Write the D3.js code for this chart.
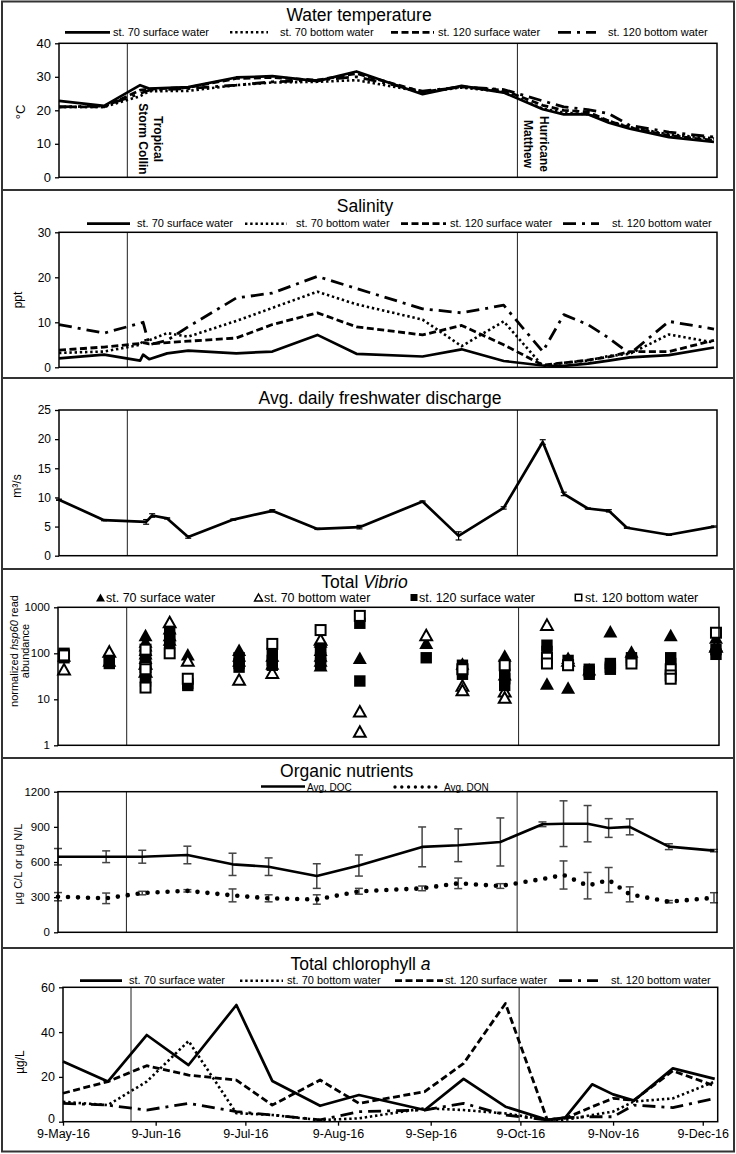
<!DOCTYPE html>
<html><head><meta charset="utf-8">
<script src="https://cdn.jsdelivr.net/npm/d3@7"></script>
<style>
body{margin:0;background:#fff;}
svg{display:block;font-family:"Liberation Sans",Arial,Helvetica,sans-serif;}
</style></head><body>
<svg id="chart" width="736" height="1154"></svg>
<script>
// ---------------- DATA ----------------
const seriesNames = ["st. 70 surface water","st. 70 bottom water","st. 120 surface water","st. 120 bottom water"];
const eventDates = ["2016-05-31 18","2016-10-08 14"];
const eventLabels = [["Tropical","Storm Collin"],["Hurricane","Matthew"]];
const xTickDates = ["2016-05-09","2016-06-09","2016-07-09","2016-08-09","2016-09-09","2016-10-09","2016-11-09","2016-12-09"];

// Water temperature (°C)
const tempDates = ["2016-05-09","2016-05-24","2016-06-05","2016-06-08","2016-06-21","2016-07-07","2016-07-19","2016-08-03","2016-08-16","2016-09-07","2016-09-20","2016-10-04","2016-10-17","2016-10-24","2016-11-01","2016-11-08","2016-11-15","2016-11-28","2016-12-13"];
const temp70Surface  = [22.8,21.3,27.5,26.5,26.9,29.8,30.2,28.7,31.6,24.8,27.3,25.3,20.3,18.8,18.8,16.3,14.5,12.0,10.6];
const temp70Bottom   = [21.0,21.0,24.2,25.7,25.8,27.5,28.3,28.5,29.0,25.5,26.8,25.5,20.5,19.3,18.8,16.8,15.0,12.8,11.6];
const temp120Surface = [21.0,21.0,26.0,26.3,26.8,29.5,29.8,29.0,31.0,25.5,27.0,26.0,21.5,20.0,19.5,16.8,14.8,12.5,11.0];
const temp120Bottom  = [21.0,21.3,25.0,26.0,26.5,27.5,28.5,29.0,30.0,25.7,27.0,26.2,22.8,21.0,20.2,19.0,15.5,13.5,12.0];
const tempTicks = [0,10,20,30,40];

// Salinity (ppt)
const salDates = ["2016-05-09","2016-05-24","2016-06-05","2016-06-06","2016-06-08","2016-06-14","2016-06-21","2016-07-07","2016-07-19","2016-08-03","2016-08-16","2016-09-07","2016-09-20","2016-10-04","2016-10-17","2016-10-24","2016-11-01","2016-11-08","2016-11-15","2016-11-28","2016-12-13"];
const sal70Surface  = [2.0,2.8,1.5,2.8,1.8,3.1,3.7,3.1,3.5,7.2,3.0,2.4,4.0,1.4,0.4,0.3,0.8,1.5,2.2,2.7,4.4];
const sal70Bottom   = [3.2,3.5,5.0,6.0,6.0,7.6,6.8,10.3,13.2,16.8,14.0,10.6,4.7,10.2,0.3,1.0,1.5,2.5,3.0,7.3,5.5];
const sal120Surface = [3.8,4.5,5.3,5.5,5.2,5.5,5.8,6.5,9.5,12.1,9.0,7.2,9.3,5.0,0.5,1.0,1.6,2.3,3.5,3.5,6.0];
const sal120Bottom  = [9.5,7.6,9.8,10.0,5.0,6.0,9.0,15.4,16.5,20.2,17.5,13.0,12.1,13.8,3.5,11.7,9.5,6.5,3.0,10.2,8.5];
const salTicks = [0,10,20,30];

// Avg. daily freshwater discharge (m3/s)
const disDates = ["2016-05-09","2016-05-24","2016-06-07","2016-06-09","2016-06-14","2016-06-21","2016-07-06","2016-07-19","2016-08-03","2016-08-17","2016-09-07","2016-09-19","2016-10-04","2016-10-17","2016-10-24","2016-11-01","2016-11-08","2016-11-14","2016-11-28","2016-12-13"];
const disValues = [9.6,6.1,5.8,6.9,6.4,3.2,6.2,7.7,4.6,4.9,9.3,3.4,8.2,19.5,10.6,8.1,7.7,4.8,3.6,5.0];
const disErr    = [0.1,0.1,0.4,0.3,0.1,0.2,0.1,0.2,0.1,0.3,0.1,0.7,0.2,0.4,0.3,0.1,0.2,0.1,0.1,0.1];
const disTicks = [0,5,10,15,20,25];

// Total Vibrio (normalized hsp60 read abundance), replicates per date
const vibDates = ["2016-05-11","2016-05-26","2016-06-07","2016-06-15","2016-06-21","2016-07-08","2016-07-19","2016-08-04","2016-08-17","2016-09-08","2016-09-20","2016-10-04","2016-10-18","2016-10-25","2016-11-01","2016-11-08","2016-11-15","2016-11-28","2016-12-13"];
const vib70Surface  = [[90],[70],[250,180,150,120,100,80],[350,250,200],[95],[120,90,70],[90,60],[180,120,90,70,55],[80],[170],[60],[90,35],[22],[80,18],[45],[300],[110],[250],[220,150]];
const vib70Bottom   = [[45],[110],[60,40],[480],[70],[27],[38],[200],[5.5,2],[250],[20,16],[15,11],[420],[70],[],[],[],[],[140]];
const vib120Surface = [[100,80],[70,60],[100,75,55,30,25],[300,220,170],[22,20],[80,60,50],[100,70,55],[130,100,80,60],[450,25],[80],[55,45,35],[35,28,20],[150,110],[70,55],[45,40,35],[60,50,45],[80,70],[80,60],[120,95]];
const vib120Bottom  = [[90],[],[120,50,45,18],[100],[28],[],[160],[320],[650],[],[45],[55],[80,60],[55],[],[],[60],[45,33,28],[280]];
const vibTicks = [1,10,100,1000];

// Organic nutrients (µg C/L or µg N/L)
const nutDates = ["2016-05-09","2016-05-25","2016-06-06","2016-06-21","2016-07-06","2016-07-18","2016-08-03","2016-08-17","2016-09-07","2016-09-19","2016-10-03","2016-10-17","2016-10-24","2016-11-01","2016-11-08","2016-11-15","2016-11-28","2016-12-13"];
const docValues = [645,645,645,660,580,560,480,570,729,743,771,922,927,927,890,900,731,697];
const docErr    = [70,50,55,75,95,75,105,90,170,140,205,20,195,155,80,68,25,10];
const donValues = [304,290,335,354,315,290,280,350,375,418,395,455,489,398,446,324,261,295];
const donErr    = [35,45,15,10,55,30,40,25,20,45,20,0,120,113,107,64,10,43];
const nutTicks = [0,300,600,900,1200];

// Total chlorophyll a (µg/L)
const chlDates = ["2016-05-09","2016-05-24","2016-06-06","2016-06-20","2016-07-06","2016-07-18","2016-08-03","2016-08-16","2016-09-07","2016-09-20","2016-10-04","2016-10-18","2016-10-24","2016-11-02","2016-11-09","2016-11-16","2016-11-29","2016-12-13"];
const chl70Surface  = [26.9,17.9,38.7,25.3,52.1,18.2,7.1,11.9,5.2,19.1,6.7,0.8,1.8,16.7,12.2,9.4,23.8,19.1];
const chl70Bottom   = [8.9,7.4,17.9,36.0,3.8,3.0,0.7,1.5,6.0,5.2,3.7,0.8,0.8,3.0,4.5,9.0,10.4,17.9];
const chl120Surface = [12.7,17.9,25.0,20.8,18.6,7.4,18.6,8.2,13.4,26.0,52.8,0.8,1.5,6.7,10.4,9.6,22.7,16.0];
const chl120Bottom  = [8.2,7.4,5.2,8.2,4.5,3.0,0.8,4.5,5.2,8.2,3.0,0.8,1.8,2.2,2.2,7.4,6.3,10.4];
const chlTicks = [0,20,40,60];

// ---------------- DRAWING ----------------
const P = d3.timeParse("%Y-%m-%d");
const PH = d3.timeParse("%Y-%m-%d %H");
const svg = d3.select("#chart");
svg.append("rect").attr("width",736).attr("height",1154).attr("fill","#fff");

const xDomain = [P("2016-05-09"), P("2016-12-14")];
const lineStyles = [
  {w:2.7, dash:null, cap:"butt"},
  {w:2.6, dash:"2.4,2.8", cap:"butt"},
  {w:2.8, dash:"7,3.5", cap:"butt"},
  {w:2.8, dash:"13,6,3,6", cap:"butt"}
];

function makePanel(o){
  const x = d3.scaleTime().domain(xDomain).range([o.left,o.right]);
  const y = (o.log ? d3.scaleLog() : d3.scaleLinear()).domain(o.yDomain).range([o.bottom,o.top]);
  const g = svg.append("g");
  eventDates.forEach(d => {
    const xx = x(PH(d));
    g.append("line").attr("x1",xx).attr("x2",xx).attr("y1",o.top).attr("y2",o.bottom)
      .attr("stroke","#333").attr("stroke-width",1.1);
  });
  const a = d3.axisLeft(y).tickValues(o.ticks).tickSize(4).tickPadding(4).tickFormat(d3.format("d"));
  const ga = g.append("g").attr("transform",`translate(${o.left},0)`).call(a);
  ga.attr("font-family",null).attr("font-size",o.tickFs);
  ga.select(".domain").remove();
  ga.selectAll(".tick line").attr("stroke","#000").attr("stroke-width",1.3);
  ga.selectAll(".tick text").attr("fill","#000");
  if (o.title) {
    const t = svg.append("text").attr("x",o.titleX).attr("y",o.titleY).attr("text-anchor","middle")
      .attr("font-size",17.5).attr("fill","#000");
    o.title.forEach(p => t.append("tspan").attr("font-style",p.it?"italic":null).text(p.t));
  }
  return {x,y,g,o,ga};
}
function finishBox(p){
  const o = p.o;
  p.g.append("rect").attr("x",o.left).attr("y",o.top).attr("width",o.right-o.left).attr("height",o.bottom-o.top)
    .attr("fill","none").attr("stroke","#000").attr("stroke-width",1.5);
}
function yTitle(lines, cx, cy, fs){
  const t = svg.append("text").attr("transform",`translate(${cx},${cy}) rotate(-90)`)
    .attr("text-anchor","middle").attr("font-size",fs).attr("fill","#000");
  lines.forEach((ln,i) => {
    const ts = t.append("tspan").attr("x",0).attr("dy", i===0 ? (-(lines.length-1)*fs*0.5 + fs*0.35) : fs*1.0);
    ln.forEach(p => ts.append("tspan").attr("font-style",p.it?"italic":null).text(p.t));
  });
}
function drawLines(p, dates, seriesList){
  const ds = dates.map(P);
  seriesList.forEach((vals,i) => {
    const st = lineStyles[i];
    const line = d3.line().x((d,j)=>p.x(ds[j])).y(d=>p.y(d));
    p.g.append("path").attr("d",line(vals)).attr("fill","none").attr("stroke","#000")
      .attr("stroke-width",st.w).attr("stroke-dasharray",st.dash).attr("stroke-linejoin","round")
      .attr("stroke-linecap",st.cap);
  });
}
function lineLegend(lx, tx, ly, ty, fs){
  seriesNames.forEach((name,i) => {
    const st = lineStyles[i];
    svg.append("line").attr("x1",lx[i][0]).attr("x2",lx[i][1]).attr("y1",ly).attr("y2",ly)
      .attr("stroke","#000").attr("stroke-width",st.w).attr("stroke-dasharray",st.dash);
    svg.append("text").attr("x",tx[i]).attr("y",ty).attr("font-size",fs).attr("fill","#000").text(name);
  });
}
function errorBars(p, dates, vals, errs, cw, color, sw){
  const ds = dates.map(P);
  vals.forEach((v,i) => {
    if (!errs[i]) return;
    const xx = p.x(ds[i]), y1 = p.y(v-errs[i]), y2 = p.y(v+errs[i]);
    p.g.append("line").attr("x1",xx).attr("x2",xx).attr("y1",y1).attr("y2",y2).attr("stroke",color).attr("stroke-width",sw);
    [y1,y2].forEach(yy => p.g.append("line").attr("x1",xx-cw/2).attr("x2",xx+cw/2).attr("y1",yy).attr("y2",yy)
      .attr("stroke",color).attr("stroke-width",sw));
  });
}

// frame
svg.append("rect").attr("x",2).attr("y",1.5).attr("width",732).attr("height",1150)
  .attr("fill","none").attr("stroke","#333").attr("stroke-width",2);
[190,378,569,758,948].forEach(yy => svg.append("line").attr("x1",2).attr("x2",734).attr("y1",yy).attr("y2",yy)
  .attr("stroke","#333").attr("stroke-width",2));

// ---- Panel 1: Water temperature
const p1 = makePanel({left:59,right:717,top:43.3,bottom:177.3,yDomain:[0,40],ticks:tempTicks,tickFs:13,
  title:[{t:"Water temperature"}],titleX:359,titleY:21});
drawLines(p1, tempDates, [temp70Surface,temp70Bottom,temp120Surface,temp120Bottom]);
finishBox(p1);
lineLegend([[65,110],[230,268],[391,434],[558,596]],[113,280,438,608],32.3,35.8,11);
yTitle([[{t:"°C"}]],20,112,13);
const evOff = [[27,12],[22.5,7]];
const evCy = [139,144];
eventDates.forEach((d,k) => {
  const xx = p1.x(PH(d));
  eventLabels[k].forEach((lab,j) => {
    svg.append("text").attr("transform",`translate(${xx+evOff[k][j]},${evCy[k]}) rotate(90)`)
      .attr("text-anchor","middle").attr("font-size",12).attr("font-weight","bold").attr("fill","#000").text(lab);
  });
});

// ---- Panel 2: Salinity
const p2 = makePanel({left:59,right:717,top:232.3,bottom:367.3,yDomain:[0,30],ticks:salTicks,tickFs:12,
  title:[{t:"Salinity"}],titleX:365,titleY:212});
drawLines(p2, salDates, [sal70Surface,sal70Bottom,sal120Surface,sal120Bottom]);
finishBox(p2);
lineLegend([[87,130],[245,287],[401,446],[563,599]],[137,296,450,612],223.7,227,11);
yTitle([[{t:"ppt"}]],18,300,12);

// ---- Panel 3: Discharge
const p3 = makePanel({left:59,right:717,top:410,bottom:555.7,yDomain:[0,25],ticks:disTicks,tickFs:12,
  title:[{t:"Avg. daily freshwater discharge"}],titleX:380,titleY:404});
errorBars(p3, disDates, disValues, disErr, 6, "#000", 1.2);
drawLines(p3, disDates, [disValues]);
finishBox(p3);
yTitle([[{t:"m³/s"}]],17,486,12);

// ---- Panel 4: Total Vibrio
const p4 = makePanel({left:58,right:719,top:607.3,bottom:745.3,yDomain:[1,1000],log:true,ticks:vibTicks,tickFs:11.5,
  title:[{t:"Total "},{t:"Vibrio",it:true}],titleX:364.5,titleY:588});
const triPath = s => `M0,${-s*0.5}L${s*0.56},${s*0.5}L${-s*0.56},${s*0.5}Z`;
function drawMarkers(series, kind){
  series.forEach((reps,i) => {
    const xx = p4.x(P(vibDates[i]));
    reps.forEach(v => {
      const yy = p4.y(v);
      const g = p4.g.append("g").attr("transform",`translate(${xx},${yy})`);
      if (kind===0) g.append("path").attr("d",triPath(12.5)).attr("fill","#000");
      if (kind===1) g.append("path").attr("d",triPath(10.5)).attr("fill","#fff").attr("stroke","#000").attr("stroke-width",2);
      if (kind===2) g.append("rect").attr("x",-5.7).attr("y",-5.7).attr("width",11.4).attr("height",11.4).attr("fill","#000");
      if (kind===3) g.append("rect").attr("x",-5).attr("y",-5).attr("width",10).attr("height",10).attr("fill","#fff").attr("stroke","#000").attr("stroke-width",2);
    });
  });
}
[vib70Surface,vib70Bottom,vib120Surface,vib120Bottom].forEach((s,k)=>drawMarkers(s,k));
finishBox(p4);
const vLeg = [[100.5,106],[258.5,264],[414,419],[578.5,585]];
seriesNames.forEach((name,k) => {
  const g = svg.append("g").attr("transform",`translate(${vLeg[k][0]},597.5)`);
  if (k===0) g.append("path").attr("d",triPath(8)).attr("fill","#000");
  if (k===1) g.append("path").attr("d",triPath(7)).attr("fill","#fff").attr("stroke","#000").attr("stroke-width",1.5);
  if (k===2) g.append("rect").attr("x",-3.5).attr("y",-3.5).attr("width",7).attr("height",7).attr("fill","#000");
  if (k===3) g.append("rect").attr("x",-3.2).attr("y",-3.2).attr("width",6.4).attr("height",6.4).attr("fill","#fff").attr("stroke","#000").attr("stroke-width",1.5);
  svg.append("text").attr("x",vLeg[k][1]).attr("y",602).attr("font-size",12.5).attr("fill","#000").text(name);
});
yTitle([[{t:"normalized "},{t:"hsp60",it:true},{t:" read"}],[{t:"abundance"}]],20,651,11);

// ---- Panel 5: Organic nutrients
const p5 = makePanel({left:58,right:717,top:791.7,bottom:932.3,yDomain:[0,1200],ticks:nutTicks,tickFs:11.5,
  title:[{t:"Organic nutrients"}],titleX:346.7,titleY:776.5});
errorBars(p5, nutDates, docValues, docErr, 8, "#444", 1.5);
errorBars(p5, nutDates, donValues, donErr, 8, "#444", 1.5);
{
  const ds = nutDates.map(P);
  const line = d3.line().x((d,j)=>p5.x(ds[j])).y(d=>p5.y(d));
  p5.g.append("path").attr("d",line(docValues)).attr("fill","none").attr("stroke","#000").attr("stroke-width",2.6).attr("stroke-linejoin","round");
  p5.g.append("path").attr("d",line(donValues)).attr("fill","none").attr("stroke","#000").attr("stroke-width",4.6)
    .attr("stroke-dasharray","0,10").attr("stroke-linecap","round");
}
finishBox(p5);
svg.append("line").attr("x1",261).attr("x2",305).attr("y1",786.5).attr("y2",786.5).attr("stroke","#000").attr("stroke-width",2.6);
svg.append("text").attr("x",307).attr("y",790.5).attr("font-size",10).attr("fill","#000").text("Avg. DOC");
svg.append("line").attr("x1",395).attr("x2",436).attr("y1",787).attr("y2",787).attr("stroke","#000").attr("stroke-width",3.4)
  .attr("stroke-dasharray","0,6.8").attr("stroke-linecap","round");
svg.append("text").attr("x",444).attr("y",790.5).attr("font-size",10).attr("fill","#000").text("Avg. DON");
yTitle([[{t:"µg C/L or µg N/L"}]],18,864,11);

// ---- Panel 6: Total chlorophyll a
const p6 = makePanel({left:63,right:717.7,top:987.3,bottom:1121.7,yDomain:[0,60],ticks:chlTicks,tickFs:12.5,
  title:[{t:"Total chlorophyll "},{t:"a",it:true}],titleX:360.5,titleY:970});
// lift the "0" label slightly so it clears the first date label
p6.ga.selectAll(".tick text").filter(d => d === 0).attr("dy","0.1em");
drawLines(p6, chlDates, [chl70Surface,chl70Bottom,chl120Surface,chl120Bottom]);
{
  const ax = d3.axisBottom(p6.x).tickValues(xTickDates.map(P)).tickSize(4).tickPadding(3.5)
    .tickFormat(d3.timeFormat("%-d-%b-%y"));
  const ga = p6.g.append("g").attr("transform",`translate(0,${p6.o.bottom})`).call(ax);
  ga.attr("font-family",null).attr("font-size",12.5);
  ga.select(".domain").remove();
  ga.selectAll(".tick line").attr("stroke","#000").attr("stroke-width",1.3);
  ga.selectAll(".tick text").attr("fill","#000");
}
finishBox(p6);
lineLegend([[80,122],[240,283],[395,443],[559,598]],[129,287,445,611],980.7,984,11);
yTitle([[{t:"µg/L"}]],20,1062,12);
</script>
</body></html>
